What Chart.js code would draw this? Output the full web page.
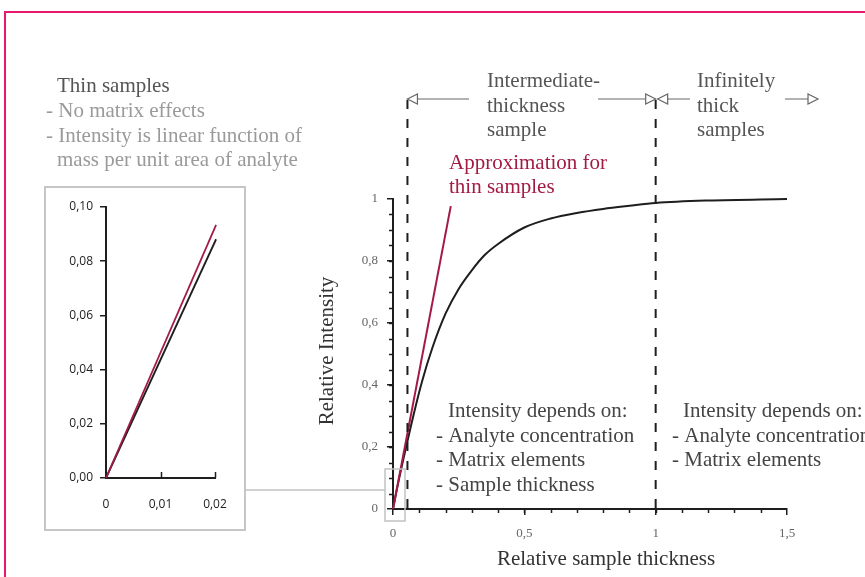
<!DOCTYPE html>
<html>
<head>
<meta charset="utf-8">
<title>Relative intensity vs sample thickness</title>
<script src="https://cdn.jsdelivr.net/npm/chart.js@4/dist/chart.umd.min.js"></script>
<style>
  html, body { margin: 0; padding: 0; background: #fff; overflow: hidden; }
  #page { position: relative; width: 865px; height: 577px; overflow: hidden; }
  #frame { position: absolute; left: 4px; top: 11px; width: 900px; height: 620px;
           border-left: 2px solid #e8186e; border-top: 2px solid #e8186e; }
  #mainChart { position: absolute; left: 0; top: 0; }
  #insetChart { position: absolute; left: 44px; top: 186px; }
  #insetBox { position: absolute; left: 44px; top: 186px; width: 202px; height: 345px;
              box-sizing: border-box; border: 2px solid #c6c6c6; pointer-events: none; }
</style>
</head>
<body>
<div id="page">
  <div id="frame"></div>
  <canvas id="mainChart" width="865" height="577"></canvas>
  <canvas id="insetChart" width="202" height="345"></canvas>
  <div id="insetBox"></div>
</div>
<script>
// relative thickness vs relative intensity
const thickness = [0, 0.02, 0.05, 0.08, 0.11, 0.15, 0.2, 0.25, 0.3, 0.35, 0.4, 0.5, 0.6, 0.7, 0.8, 0.9, 1, 1.2, 1.5]
const intensity = [0, 0.085, 0.2, 0.31, 0.41, 0.52, 0.63, 0.71, 0.77, 0.82, 0.855, 0.908, 0.937, 0.955, 0.968, 0.978, 0.987, 0.995, 1.0]

// thin-sample approximation (straight line)
const approxX = [0, 0.22]
const approxY = [0, 0.977]

// region boundaries on the thickness axis
const boundaries = [0.055, 1]

// zoomed view near the origin
const insetX = [0, 0.0202]
const insetLinear = [0, 0.0934]
const insetReal = [0, 0.0881]

const yTicksMain = [0, 0.2, 0.4, 0.6, 0.8, 1]
const xTicksMain = [0, 0.5, 1, 1.5]
const yTicksInset = [0, 0.02, 0.04, 0.06, 0.08, 0.1]
const xTicksInset = [0, 0.01, 0.02]

const RED = "#a31b44"
const INK = "#1e1e1e"
const SERIF = "'Liberation Serif', 'Times New Roman', serif"

const pts = (xs, ys) => xs.map((x, i) => ({ x: x, y: ys[i] }))
const comma = (v) => String(v).replace(".", ",")

function arrowHead(ctx, x, y, dir) {
  // open triangle, tip at (x, y), dir = -1 points left, 1 points right
  ctx.beginPath()
  ctx.moveTo(x, y)
  ctx.lineTo(x - dir * 10, y - 5)
  ctx.lineTo(x - dir * 10, y + 5)
  ctx.closePath()
  ctx.fillStyle = "#fff"
  ctx.fill()
  ctx.stroke()
}

const mainDecor = {
  id: "mainDecor",
  afterDraw(chart) {
    const ctx = chart.ctx
    const xs = chart.scales.x
    const ys = chart.scales.y
    const x0 = xs.getPixelForValue(0)
    const y0 = ys.getPixelForValue(0)
    ctx.save()

    // minor ticks
    ctx.strokeStyle = INK
    ctx.lineWidth = 1.5
    for (let v = 0.05; v < 1; v += 0.05) {
      const py = Math.round(ys.getPixelForValue(v)) + 0.5
      ctx.beginPath(); ctx.moveTo(x0 - 4, py); ctx.lineTo(x0, py); ctx.stroke()
    }
    for (let v = 0.1; v < 1.5; v += 0.1) {
      const px = Math.round(xs.getPixelForValue(v)) + 0.5
      ctx.beginPath(); ctx.moveTo(px, y0); ctx.lineTo(px, y0 + 4); ctx.stroke()
    }

    // dashed boundary lines
    ctx.setLineDash([9, 10])
    ctx.lineWidth = 2
    boundaries.forEach((b) => {
      const px = xs.getPixelForValue(b)
      ctx.beginPath(); ctx.moveTo(px, 100); ctx.lineTo(px, y0); ctx.stroke()
    })
    ctx.setLineDash([])

    // region arrows
    const bL = xs.getPixelForValue(boundaries[0])
    const bR = xs.getPixelForValue(boundaries[1])
    const ay = 99
    ctx.strokeStyle = "#666"
    ctx.lineWidth = 1.2
    const seg = (a, b) => { ctx.beginPath(); ctx.moveTo(a, ay); ctx.lineTo(b, ay); ctx.stroke() }
    seg(bL, 469); arrowHead(ctx, bL, ay, -1)
    seg(598, bR); arrowHead(ctx, bR, ay, 1)
    seg(bR + 2, 690); arrowHead(ctx, bR + 2, ay, -1)
    seg(785, 818); arrowHead(ctx, 818, ay, 1)

    // zoom box around the origin and link to the inset
    ctx.strokeStyle = "#c2c2c2"
    ctx.lineWidth = 1.5
    ctx.strokeRect(x0 - 8, y0 - 40, 20, 52)
    ctx.beginPath(); ctx.moveTo(245, 490); ctx.lineTo(x0 - 8, 490); ctx.stroke()

    // texts
    ctx.textBaseline = "alphabetic"
    ctx.textAlign = "left"
    ctx.font = "21px " + SERIF
    const lines = (arr, x, y, color) => {
      ctx.fillStyle = color
      arr.forEach((t, i) => ctx.fillText(t, x, y + i * 24.6))
    }
    lines(["Thin samples"], 57, 92, "#555")
    lines(["- No matrix effects", "- Intensity is linear function of"], 46, 117, "#9a9a9a")
    lines(["mass per unit area of analyte"], 57, 166, "#9a9a9a")
    lines(["Intermediate-", "thickness", "sample"], 487, 87, "#555")
    lines(["Infinitely", "thick", "samples"], 697, 87, "#555")
    lines(["Approximation for", "thin samples"], 449, 168.5, RED)
    lines(["Intensity depends on:"], 448, 417, "#444")
    lines(["- Analyte concentration", "- Matrix elements", "- Sample thickness"], 436, 441.8, "#444")
    lines(["Intensity depends on:"], 683, 417, "#444")
    lines(["- Analyte concentration", "- Matrix elements"], 672, 441.8, "#444")

    // axis titles
    ctx.fillStyle = "#333"
    ctx.textAlign = "center"
    ctx.fillText("Relative sample thickness", 606, 565)
    ctx.translate(333, 351)
    ctx.rotate(-Math.PI / 2)
    ctx.fillText("Relative Intensity", 0, 0)
    ctx.restore()
  },
}

new Chart(document.getElementById("mainChart"), {
  type: "scatter",
  data: {
    datasets: [
      {
        label: "Approximation for thin samples",
        data: pts(approxX, approxY),
        showLine: true,
        borderColor: RED,
        borderWidth: 2,
        pointRadius: 0,
        clip: false,
      },
      {
        label: "Relative intensity",
        data: pts(thickness, intensity),
        showLine: true,
        borderColor: INK,
        borderWidth: 2,
        pointRadius: 0,
        cubicInterpolationMode: "monotone",
        clip: false,
      },
    ],
  },
  options: {
    responsive: false,
    animation: false,
    events: [],
    layout: { padding: { top: 199, right: 78, bottom: 0, left: 0 } },
    plugins: { legend: { display: false }, tooltip: { enabled: false } },
    scales: {
      x: {
        type: "linear",
        min: 0,
        max: 1.5,
        afterFit: (s) => { s.height = 68 },
        afterBuildTicks: (s) => { s.ticks = xTicksMain.map((v) => ({ value: v })) },
        border: { color: INK, width: 2 },
        grid: { drawOnChartArea: false, color: INK, tickLength: 6, lineWidth: 1.5 },
        ticks: { callback: comma, color: "#666", padding: 11, font: { family: SERIF, size: 13 } },
      },
      y: {
        type: "linear",
        min: 0,
        max: 1,
        afterFit: (s) => { s.width = 393 },
        afterBuildTicks: (s) => { s.ticks = yTicksMain.map((v) => ({ value: v })) },
        border: { color: INK, width: 2 },
        grid: { drawOnChartArea: false, color: INK, tickLength: 6, lineWidth: 1.5 },
        ticks: { callback: comma, color: "#666", padding: 9, font: { family: SERIF, size: 13 } },
      },
    },
  },
  plugins: [mainDecor],
})

// inward ticks on the inset x axis
const insetTicks = {
  id: "insetTicks",
  afterDraw(chart) {
    const ctx = chart.ctx
    const xs = chart.scales.x
    const y0 = chart.scales.y.getPixelForValue(0)
    ctx.save()
    ctx.strokeStyle = INK
    ctx.lineWidth = 1.5
    xTicksInset.slice(1).forEach((v) => {
      const px = Math.round(xs.getPixelForValue(v)) + 0.5
      ctx.beginPath(); ctx.moveTo(px, y0); ctx.lineTo(px, y0 - 6); ctx.stroke()
    })
    ctx.restore()
  },
}

new Chart(document.getElementById("insetChart"), {
  type: "scatter",
  data: {
    datasets: [
      {
        label: "Linear",
        data: pts(insetX, insetLinear),
        showLine: true,
        borderColor: RED,
        borderWidth: 1.8,
        pointRadius: 0,
        clip: false,
      },
      {
        label: "Measured",
        data: pts(insetX, insetReal),
        showLine: true,
        borderColor: INK,
        borderWidth: 1.8,
        pointRadius: 0,
        clip: false,
      },
    ],
  },
  options: {
    responsive: false,
    animation: false,
    events: [],
    layout: { padding: { top: 21, right: 31, bottom: 0, left: 0 } },
    plugins: { legend: { display: false }, tooltip: { enabled: false } },
    scales: {
      x: {
        type: "linear",
        min: 0,
        max: 0.02,
        afterFit: (s) => { s.height = 53 },
        afterBuildTicks: (s) => { s.ticks = xTicksInset.map((v) => ({ value: v })) },
        border: { color: INK, width: 2 },
        grid: { drawOnChartArea: false, drawTicks: false },
        ticks: {
          callback: (v) => (v === 0 ? "0" : v.toFixed(2).replace(".", ",")),
          color: "#222",
          padding: 19,
          font: { family: "'Open Sans', sans-serif", size: 12 },
        },
      },
      y: {
        type: "linear",
        min: 0,
        max: 0.1,
        afterFit: (s) => { s.width = 62 },
        afterBuildTicks: (s) => { s.ticks = yTicksInset.map((v) => ({ value: v })) },
        border: { color: INK, width: 2 },
        grid: { drawOnChartArea: false, color: INK, tickLength: 6, lineWidth: 1.5 },
        ticks: {
          callback: (v) => v.toFixed(2).replace(".", ","),
          color: "#222",
          padding: 7,
          font: { family: "'Open Sans', sans-serif", size: 12 },
        },
      },
    },
  },
  plugins: [insetTicks],
})
</script>
</body>
</html>
